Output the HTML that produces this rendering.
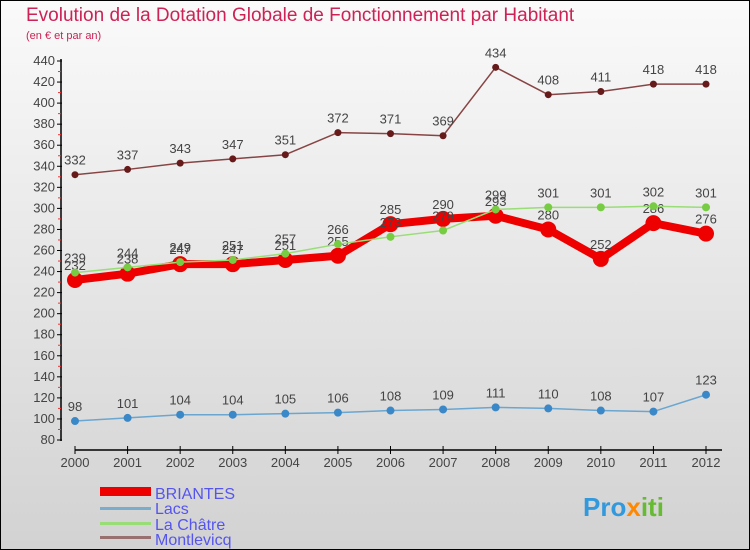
<!DOCTYPE html>
<html><head><meta charset="utf-8"><style>
body{margin:0;}
#c{width:750px;height:550px;position:relative;overflow:hidden;font-family:"Liberation Sans",sans-serif;}
svg text{font-family:"Liberation Sans",sans-serif;}
</style></head><body>
<div id="c">
<svg id="s" width="750" height="550" xmlns="http://www.w3.org/2000/svg">
<defs><linearGradient id="bg" x1="0" y1="0" x2="0" y2="1"><stop offset="0" stop-color="#fafafa"/><stop offset="1" stop-color="#d2d2d2"/></linearGradient></defs>
<rect x="0.5" y="0.5" width="749" height="549" fill="url(#bg)" stroke="#000"/>
<text x="26" y="21" font-size="19" fill="#cc2255">Evolution de la Dotation Globale de Fonctionnement par Habitant</text>
<text x="26" y="39" font-size="11" fill="#cc2255">(en € et par an)</text>
<g id="axes"></g><g id="series"></g>
<g>
<rect x="100" y="487" width="51" height="9" fill="#ee0000"/>
<rect x="100" y="507" width="51" height="3" fill="#7aaccc"/>
<rect x="100" y="522" width="51" height="3" fill="#99dd77"/>
<rect x="100" y="536" width="51" height="3" fill="#997070"/>
<text x="155" y="499" font-size="16" fill="#5555ee">BRIANTES</text>
<text x="155" y="514" font-size="16" fill="#5555ee">Lacs</text>
<text x="155" y="530" font-size="16" fill="#5555ee">La Châtre</text>
<text x="155" y="545" font-size="16" fill="#5555ee">Montlevicq</text>
</g>
<text x="583" y="516" font-size="26" font-weight="bold"><tspan fill="#3399dd">Pro</tspan><tspan fill="#ff8800">x</tspan><tspan fill="#66bb33">iti</tspan></text>
</svg></div>
<script>
const years=[2000,2001,2002,2003,2004,2005,2006,2007,2008,2009,2010,2011,2012];
const yTicks=[80,100,120,140,160,180,200,220,240,260,280,300,320,340,360,380,400,420,440];
const briantes=[232,238,247,247,251,255,285,290,293,280,252,286,276];
const lacs=[98,101,104,104,105,106,108,109,111,110,108,107,123];
const laChatre=[239,244,249,251,257,266,273,279,299,301,301,302,301];
const montlevicq=[332,337,343,347,351,372,371,369,434,408,411,418,418];
const NS="http://www.w3.org/2000/svg";
function X(i){return 75+i*(706-75)/12;}
function Y(v){return 440-(v-80)*(440-61)/360;}
function mk(t,a,p){const e=document.createElementNS(NS,t);for(const k in a)e.setAttribute(k,a[k]);p.appendChild(e);return e;}
const ax=document.getElementById('axes');
mk('line',{x1:61,y1:59,x2:61,y2:441,stroke:'#000','stroke-width':1.5},ax);
mk('line',{x1:75,y1:450,x2:722,y2:450,stroke:'#000','stroke-width':1.5},ax);
yTicks.forEach(v=>{
 const l=mk('line',{x1:57,y1:Y(v),x2:62,y2:Y(v),stroke:'#000'},ax);
 
 
 if(v<440){const m=mk('line',{x1:58,y1:Y(v+10),x2:61,y2:Y(v+10),stroke:'#e33'},ax);
 
 }
 const t=mk('text',{x:55,y:Y(v)+4,'font-size':13,'text-anchor':'end',fill:'#444'},ax);
 t.textContent=v;
 
 
});
years.forEach((y,i)=>{
 const l=mk('line',{x1:X(i),y1:446,x2:X(i),y2:454,stroke:'#000'},ax);
 
 
 const t=mk('text',{x:X(i),y:467,'font-size':13,'text-anchor':'middle',fill:'#444'},ax);
 t.textContent=y;
 
 
});
const sg=document.getElementById('series');
function series(d,name,col,w,r,dot){
 const g=mk('g',{},sg);
 
 
 mk('polyline',{points:d.map((v,i)=>X(i)+','+Y(v)).join(' '),fill:'none',stroke:col,'stroke-width':w,'stroke-linejoin':'round'},g);
 d.forEach((v,i)=>{
  const c=mk('circle',{cx:X(i),cy:Y(v),r:r,fill:dot},g);
  
  
  const t=mk('text',{x:X(i),y:Y(v)-10,'font-size':13,'text-anchor':'middle',fill:'#444'},g);
  t.textContent=v;
  
  
 });
}
series(montlevicq,'montlevicq','#884444',1.5,3.5,'#661a1a');
series(lacs,'lacs','#6aa6d0',1.5,4,'#3a88c8');
series(briantes,'briantes','#ee0000',8,8,'#ee0000');
series(laChatre,'la-chatre','#99dd77',1.5,4,'#77cc44');
</script>
</body></html>
